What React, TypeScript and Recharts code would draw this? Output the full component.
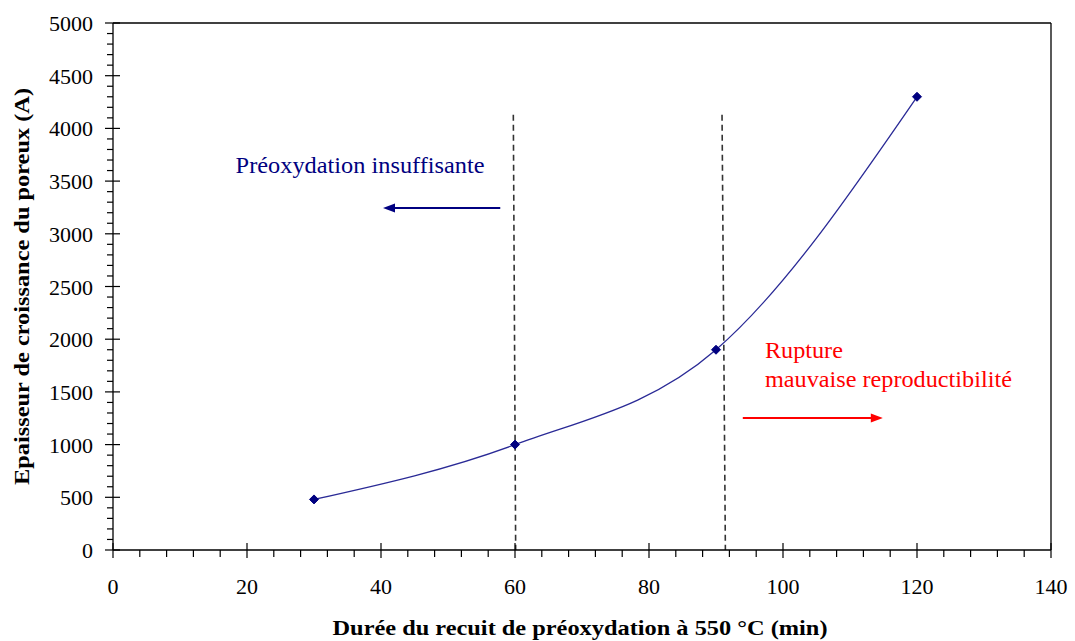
import React from 'react';
import { LineChart, Line, XAxis, YAxis, ReferenceLine, ReferenceDot } from 'recharts';

// Measured pore growth thickness vs. pre-oxidation anneal duration
const durations = [30, 60, 90, 120];
const thickness = [480, 1000, 1900, 4300];

const xTicks = [0, 4, 8, 12, 16, 20, 24, 28, 32, 36, 40, 44, 48, 52, 56, 60, 64, 68, 72, 76, 80, 84, 88, 92, 96, 100, 104, 108, 112, 116, 120, 124, 128, 132, 136, 140];
const yTicks = Array.from({ length: 51 }, (_, i) => i * 100);

// Boundaries of the usable pre-oxidation window (dashed guides)
const boundaryTop = 4130;
const lowerBoundary = [59.75, 60.1];
const upperBoundary = [90.9, 91.4];

const data = durations.map((d, i) => ({ duree: d, epaisseur: thickness[i] }));

const FONT = '"Liberation Serif", "Times New Roman", serif';
const NAVY = '#000080';

const XTick = (props: any) => {
  const { x, y, payload } = props;
  const v = payload.value;
  const major = v % 20 === 0;
  return (
    <g>
      {major ? (
        <line x1={x} x2={x} y1={y - 7} y2={y + 8} stroke="#000" strokeWidth={1.2} />
      ) : (
        <line x1={x} x2={x} y1={y} y2={y + 7} stroke="#000" strokeWidth={1.2} />
      )}
      {major && (
        <text x={x} y={y + 44} textAnchor="middle" fontFamily={FONT} fontSize={22} fill="#000">
          {v}
        </text>
      )}
    </g>
  );
};

const YTick = (props: any) => {
  const { x, y, payload } = props;
  const v = payload.value;
  const major = v % 500 === 0;
  return (
    <g>
      {major ? (
        <line x1={x - 8} x2={x + 7} y1={y} y2={y} stroke="#000" strokeWidth={1.2} />
      ) : (
        <line x1={x - 6} x2={x} y1={y} y2={y} stroke="#000" strokeWidth={1.2} />
      )}
      {major && (
        <text x={x - 20} y={y + 8} textAnchor="end" fontFamily={FONT} fontSize={22} fill="#000">
          {v}
        </text>
      )}
    </g>
  );
};

const Diamond = (props: any) => {
  const { cx, cy } = props;
  if (cx == null || cy == null) return null;
  const r = 4.5;
  return (
    <polygon
      points={`${cx},${cy - r} ${cx + r},${cy} ${cx},${cy + r} ${cx - r},${cy}`}
      fill={NAVY}
      stroke={NAVY}
    />
  );
};

const arrowShape = (color: string) => (props: any) => {
  const { x1, y1, x2, y2 } = props;
  const dir = x2 > x1 ? 1 : -1;
  const hl = 12;
  const hw = 4.5;
  return (
    <g>
      <line x1={x1} y1={y1} x2={x2 - dir * hl * 0.8} y2={y2} stroke={color} strokeWidth={2} />
      <polygon
        points={`${x2},${y2} ${x2 - dir * hl},${y2 - hw} ${x2 - dir * hl},${y2 + hw}`}
        fill={color}
      />
    </g>
  );
};

type AnnotLine = { text: string; len: number };

const textShape = (lines: AnnotLine[], color: string) => (props: any) => {
  const { cx, cy } = props;
  return (
    <g>
      {lines.map((l, i) => (
        <text
          key={i}
          x={cx}
          y={cy + i * 29}
          fontFamily={FONT}
          fontSize={23}
          fill={color}
          textLength={l.len}
          lengthAdjust="spacingAndGlyphs"
        >
          {l.text}
        </text>
      ))}
    </g>
  );
};

const YTitle = (props: any) => {
  const vb = props.viewBox || { x: 0, y: 23, width: 113, height: 527 };
  const cx = vb.x + 22;
  const cy = vb.y + vb.height / 2;
  return (
    <text
      x={cx}
      y={cy}
      transform={`rotate(-90, ${cx}, ${cy})`}
      textAnchor="middle"
      dominantBaseline="central"
      fontFamily={FONT}
      fontWeight="bold"
      fontSize={21}
      fill="#000"
      textLength={397}
      lengthAdjust="spacingAndGlyphs"
    >
      Epaisseur de croissance du poreux (A)
    </text>
  );
};

const XTitle = (props: any) => {
  const vb = props.viewBox || { x: 113, y: 550, width: 938, height: 91 };
  return (
    <text
      x={vb.x + vb.width / 2 - 2}
      y={vb.y + 85}
      textAnchor="middle"
      fontFamily={FONT}
      fontWeight="bold"
      fontSize={22}
      fill="#000"
      textLength={495}
      lengthAdjust="spacingAndGlyphs"
    >
      Durée du recuit de préoxydation à 550 °C (min)
    </text>
  );
};

export default function App() {
  return (
    <div style={{ position: 'absolute', left: 0, top: 0, width: 1075, height: 641, background: '#fff' }}>
      <LineChart width={1075} height={641} data={data} margin={{ top: 23, right: 24, left: 0, bottom: 0 }}>
        <XAxis
          dataKey="duree"
          type="number"
          domain={[0, 140]}
          ticks={xTicks}
          interval={0}
          height={91}
          tickSize={0}
          tickMargin={0}
          tickLine={false}
          tick={<XTick />}
          axisLine={{ stroke: '#000', strokeWidth: 1.3 }}
          label={<XTitle />}
        />
        <YAxis
          type="number"
          domain={[0, 5000]}
          ticks={yTicks}
          interval={0}
          width={113}
          tickSize={0}
          tickMargin={0}
          tickLine={false}
          tick={<YTick />}
          axisLine={{ stroke: '#000', strokeWidth: 1.3 }}
          label={<YTitle />}
        />
        <ReferenceLine y={5000} stroke="#000" strokeWidth={1.3} />
        <ReferenceLine x={140} stroke="#000" strokeWidth={1.3} />
        <ReferenceLine
          segment={[{ x: lowerBoundary[0], y: boundaryTop }, { x: lowerBoundary[1], y: 0 }]}
          stroke="#333"
          strokeWidth={1.6}
          strokeDasharray="6 4"
        />
        <ReferenceLine
          segment={[{ x: upperBoundary[0], y: boundaryTop }, { x: upperBoundary[1], y: 0 }]}
          stroke="#333"
          strokeWidth={1.6}
          strokeDasharray="6 4"
        />
        <ReferenceLine
          segment={[{ x: 57.8, y: 3245 }, { x: 40.3, y: 3245 }]}
          shape={arrowShape(NAVY)}
        />
        <ReferenceLine
          segment={[{ x: 94.0, y: 1252 }, { x: 114.9, y: 1252 }]}
          shape={arrowShape('#ff0000')}
        />
        <ReferenceDot
          x={18.3}
          y={3580}
          r={0}
          shape={textShape([{ text: 'Préoxydation insuffisante', len: 249 }], NAVY)}
        />
        <ReferenceDot
          x={97.3}
          y={1822}
          r={0}
          shape={textShape(
            [
              { text: 'Rupture', len: 78 },
              { text: 'mauvaise reproductibilité', len: 247 },
            ],
            '#ff0000'
          )}
        />
        <Line
          type="monotone"
          dataKey="epaisseur"
          stroke="#2a2a96"
          strokeWidth={1.3}
          dot={<Diamond />}
          activeDot={false}
          isAnimationActive={false}
        />
      </LineChart>
    </div>
  );
}
